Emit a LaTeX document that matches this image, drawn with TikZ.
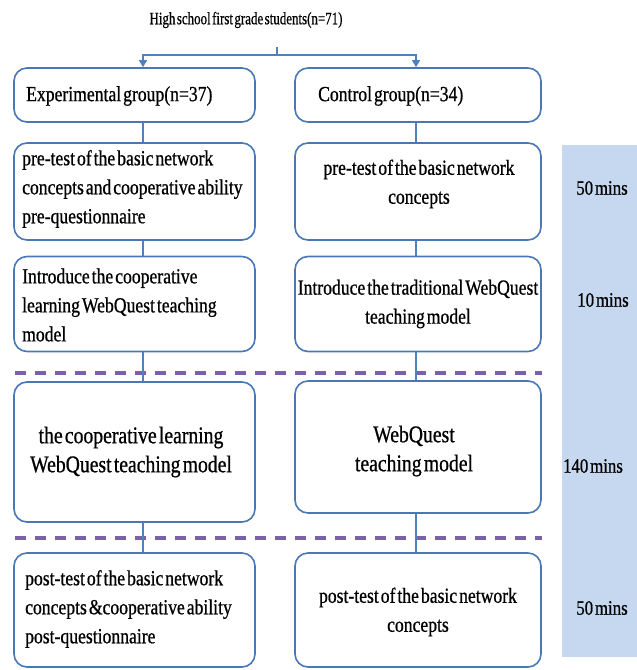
\documentclass[tikz,border=0pt]{standalone}
\usepackage{fontspec}
\setmainfont{Liberation Serif}[FakeStretch=0.82, WordSpace=0.45, FakeBold=0.7]
\newfontfamily\titlefont{Liberation Serif}[FakeStretch=0.74, WordSpace=0.45, FakeBold=0.6]
\usetikzlibrary{arrows.meta}
\definecolor{boxblue}{HTML}{4A78B4}
\definecolor{lineblue}{HTML}{4F81BD}
\definecolor{dashpurple}{HTML}{7B62A8}
\definecolor{timeblue}{HTML}{C6D8EF}
\tikzset{
  box/.style={draw=boxblue, line width=1.6pt, rounded corners=13pt, fill=white, inner sep=0pt},
  txt/.style={inner sep=0pt, align=left, anchor=west, font=\fontsize{21.5}{29}\selectfont},
  ctxt/.style={inner sep=0pt, align=center, font=\fontsize{21.5}{29}\selectfont},
  bigtxt/.style={inner sep=0pt, align=center, font=\fontsize{24}{29}\selectfont},
  conn/.style={draw=lineblue, line width=1.3pt},
  arr/.style={conn, -{Triangle[width=8pt,length=7pt]}},
  phase/.style={draw=dashpurple, line width=4.5pt, dash pattern=on 11pt off 9pt},
  timelab/.style={font=\fontsize{20.5}{24}\selectfont, inner sep=0pt},
}
\begin{document}
\begin{tikzpicture}[x=1pt,y=-1pt]
\useasboundingbox (0,0) rectangle (637,670);
% time band
\fill[timeblue] (562,145) rectangle (637,657);
\node[timelab] (t1) at (602,188) {50 mins};
\node[timelab] (t2) at (603,300) {10 mins};
\node[timelab] (t3) at (593,466) {140 mins};
\node[timelab] (t4) at (602,608) {50 mins};
% column coordinates
\coordinate (lx) at (143,0);
\coordinate (rx) at (416,0);
% phase separators
\coordinate (d1a) at (15,373); \coordinate (d1b) at (542,373);
\coordinate (d2a) at (15,538); \coordinate (d2b) at (542,538);
\draw[phase] (d1a) -- (d1b);
\draw[phase] (d2a) -- (d2b);
% title
\node[font=\titlefont\fontsize{17.5}{20}\selectfont, inner sep=0pt] (top) at (246,20) {High school first grade students(n=71)};
\coordinate (stem) at (277,47);
\coordinate (split) at (277,55);
% row 1
\node[box, minimum width=241pt, minimum height=54pt] (e1) at (134.5,95) {};
\node[txt] (e1t) at (26,96) {Experimental group(n=37)};
\node[box, minimum width=246pt, minimum height=54pt] (c1) at (418,95) {};
\node[txt] (c1t) at (318,96) {Control group(n=34)};
% row 2
\node[box, minimum width=241pt, minimum height=97pt] (e2) at (134.5,191.5) {};
\node[txt] (e2t) at (22,189) {pre-test of the basic network\\concepts and cooperative ability\\pre-questionnaire};
\node[box, minimum width=246pt, minimum height=97pt] (c2) at (418,191.5) {};
\node[ctxt] (c2t) at (419,184) {pre-test of the basic network\\concepts};
% row 3
\node[box, minimum width=241pt, minimum height=95pt] (e3) at (134.5,304) {};
\node[txt] (e3t) at (22,305) {Introduce the cooperative\\learning WebQuest teaching\\model};
\node[box, minimum width=246pt, minimum height=95pt] (c3) at (418,304) {};
\node[ctxt] (c3t) at (418,304) {Introduce the traditional WebQuest\\teaching model};
% row 4
\node[box, minimum width=241pt, minimum height=140pt] (e4) at (134.5,452) {};
\node[bigtxt] (e4t) at (131,452) {the cooperative learning\\WebQuest teaching model};
\node[box, minimum width=246pt, minimum height=132pt] (c4) at (418,447) {};
\node[bigtxt] (c4t) at (414,451) {WebQuest\\teaching model};
% row 5
\node[box, minimum width=241pt, minimum height=114pt] (e5) at (134.5,610) {};
\node[txt] (e5t) at (25,609) {post-test of the basic network\\concepts \&cooperative ability\\post-questionnaire};
\node[box, minimum width=246pt, minimum height=114pt] (c5) at (418,610) {};
\node[ctxt] (c5t) at (418,612) {post-test of the basic network\\concepts};
% connectors
\draw[conn] (stem) -- (split);
\draw[arr] (split) -| (e1.north -| lx);
\draw[arr] (split) -| (c1.north -| rx);
\draw[conn] (e1.south -| lx) -- (e2.north -| lx);
\draw[conn] (e2.south -| lx) -- (e3.north -| lx);
\draw[conn] (e3.south -| lx) -- (e4.north -| lx);
\draw[conn] (e4.south -| lx) -- (e5.north -| lx);
\draw[conn] (c1.south -| rx) -- (c2.north -| rx);
\draw[conn] (c2.south -| rx) -- (c3.north -| rx);
\draw[conn] (c3.south -| rx) -- (c4.north -| rx);
\draw[conn] (c4.south -| rx) -- (c5.north -| rx);
\end{tikzpicture}
\end{document}
